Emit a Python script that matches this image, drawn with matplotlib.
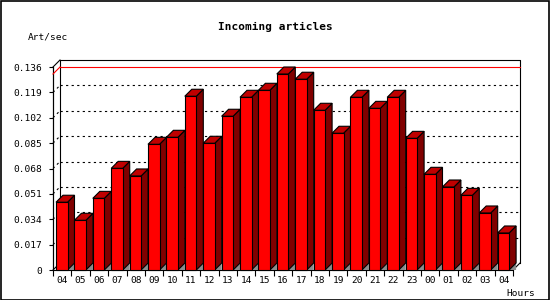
import matplotlib
matplotlib.use("Agg")
import matplotlib.pyplot as plt
from matplotlib.patches import Polygon, Rectangle
import numpy as np

hours = ["04", "05", "06", "07", "08", "09", "10", "11", "12", "13", "14", "15",
         "16", "17", "18", "19", "20", "21", "22", "23", "00", "01", "02", "03", "04"]
values = [0.0454, 0.0333, 0.0480, 0.0681, 0.0630, 0.0842, 0.0889, 0.1164, 0.0849,
          0.1030, 0.1157, 0.1204, 0.1313, 0.1278, 0.1070, 0.0916, 0.1157, 0.1083,
          0.1157, 0.0882, 0.0641, 0.0556, 0.0500, 0.0382, 0.0248]
yticks = [0, 0.017, 0.034, 0.051, 0.068, 0.085, 0.102, 0.119, 0.136]
ytick_labels = ["0", "0.017", "0.034", "0.051", "0.068", "0.085", "0.102", "0.119", "0.136"]
title = "Incoming articles"
ylabel = "Art/sec"
xlabel = "Hours"

W, H = 550, 300
fig = plt.figure(figsize=(W / 100, H / 100), dpi=100)
fig.patch.set_facecolor("white")
# figure border
fig.add_artist(Rectangle((0.5 / W, 0.5 / H), (W - 1.5) / W, (H - 1.5) / H,
                         transform=fig.transFigure, fill=False, ec="black", lw=1.2))

x0, x1, ytop, ybot = 53, 513, 67, 270
ax = fig.add_axes([x0 / W, (H - ybot) / H, (x1 - x0) / W, (ybot - ytop) / H])
n = len(values)
ymax = 0.136
ax.set_xlim(0, n)
ax.set_ylim(0, ymax)
for s in ax.spines.values():
    s.set_visible(False)
ax.patch.set_visible(False)

# depth offsets (7 px) in data units
pxx = (x1 - x0) / n
pxy = (ybot - ytop) / ymax
dx = 7 / pxx
dy = 7 / pxy

lw = 0.8
mono = "DejaVu Sans Mono"

# back wall
ax.plot([dx, dx, n + dx, n + dx], [dy, ymax + dy, ymax + dy, dy], color="black", lw=lw, clip_on=False, zorder=1)
ax.plot([n + dx, n], [dy, 0], color="black", lw=lw, clip_on=False, zorder=1)
ax.plot([0, dx], [ymax, ymax + dy], color="black", lw=lw, clip_on=False, zorder=1)
ax.plot([0, 0], [0, ymax], color="black", lw=lw, clip_on=False, zorder=1)
ax.plot([0, n], [0, 0], color="black", lw=lw, clip_on=False, zorder=1)
ax.plot([0, dx], [0, dy], color="black", lw=lw, clip_on=False, zorder=1)

# dotted grid on back wall
for v in yticks[1:-1]:
    ax.plot([dx, n + dx], [v + dy, v + dy], color="black", lw=lw,
            linestyle=(0, (2, 3)), clip_on=False, zorder=1)
    ax.plot([0, dx], [v, v + dy], color="black", lw=lw,
            linestyle=(0, (2, 3)), clip_on=False, zorder=1)

# max line
vmax = max(values)
ax.plot([dx, n + dx], [vmax + dy, vmax + dy], color="#ff0000", lw=lw, clip_on=False, zorder=1.5)
ax.plot([0, dx], [vmax, vmax + dy], color="#ff0000", lw=lw, clip_on=False, zorder=1.5)

# bars
off = 3 / pxx
bw = 11.5 / pxx
for i, v in enumerate(values):
    xl = i + off
    xr = xl + bw
    z = 2 + i * 0.01
    ax.add_patch(Polygon([(xr, 0), (xr + dx, dy), (xr + dx, 0)], closed=True,
                         fc="#8c8c8c", ec="none", clip_on=False, zorder=z))
    ax.add_patch(Polygon([(xr, 0), (xr, v), (xr + dx, v + dy), (xr + dx, dy)], closed=True,
                         fc="#800000", ec="black", lw=lw, clip_on=False, zorder=z))
    ax.add_patch(Polygon([(xl, v), (xl + dx, v + dy), (xr + dx, v + dy), (xr, v)], closed=True,
                         fc="#c00000", ec="black", lw=lw, clip_on=False, zorder=z))
    ax.add_patch(Rectangle((xl, 0), bw, v, fc="#ff0000", ec="black", lw=lw,
                           clip_on=False, zorder=z + 0.001))

# ticks
ax.set_yticks(yticks)
ax.set_yticklabels(ytick_labels, fontfamily=mono, fontsize=6.8)
ax.tick_params(axis="y", length=3, width=lw, pad=5, direction="out")
ax.set_xticks(np.arange(n) + 0.5)
ax.set_xticklabels(hours, fontfamily=mono, fontsize=6.8)
ax.set_xticks(np.arange(n + 1), minor=True)
ax.tick_params(axis="x", which="major", length=0, pad=4.5)
ax.tick_params(axis="x", which="minor", length=4, width=lw, direction="out")
ax.plot([0, 0], [0, ymax], color="black", lw=lw, clip_on=False, zorder=1)

fig.text(275 / W, 1 - 27 / H, title, ha="center", va="center",
         fontfamily=mono, fontweight="bold", fontsize=8)
fig.text(28 / W, 1 - 37 / H, ylabel, ha="left", va="center", fontfamily=mono, fontsize=6.8)
fig.text(506 / W, 1 - 293 / H, xlabel, ha="left", va="center", fontfamily=mono, fontsize=6.8)

fig.savefig("out.png", dpi=100, facecolor="white")
